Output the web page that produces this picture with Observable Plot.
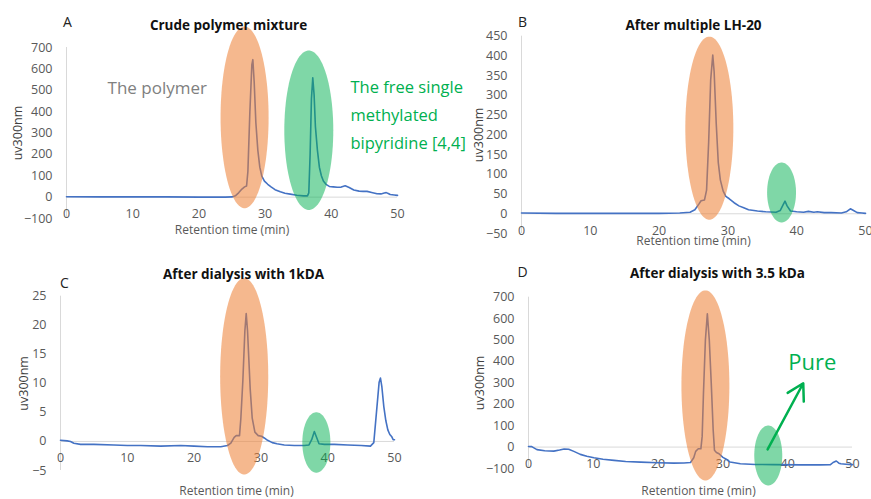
<!DOCTYPE html>
<html><head><meta charset="utf-8">
<script src="https://cdn.jsdelivr.net/npm/d3@7"></script>
<script src="https://cdn.jsdelivr.net/npm/@observablehq/plot@0.6"></script>
<style>
html,body{margin:0;padding:0;background:#fff;}
#root{position:relative;width:871px;height:499px;overflow:hidden;}
.panel{position:absolute;}
</style></head><body><div id="root"></div>
<script>
// ---------- data ----------
const xTicks = [0, 10, 20, 30, 40, 50];

const panelLetters = ["A", "B", "C", "D"];
const panelTitles = ["Crude polymer mixture", "After multiple LH-20", "After dialysis with 1kDA", "After dialysis with 3.5 kDa"];
const xTitle = "Retention time (min)";
const yTitle = "uv300nm";

const yTicksA = [-100, 0, 100, 200, 300, 400, 500, 600, 700];
const yTicksB = [-50, 0, 50, 100, 150, 200, 250, 300, 350, 400, 450];
const yTicksC = [-5, 0, 5, 10, 15, 20, 25];
const yTicksD = [-100, 0, 100, 200, 300, 400, 500, 600, 700];

const aTime  = [0, 5, 10, 15, 20, 24, 25, 25.5, 26, 26.5, 26.9, 27.2, 27.4, 27.7, 28.0, 28.15, 28.35, 28.6, 28.9, 29.2, 29.5, 29.9, 30.4, 30.9, 31.5, 32.3, 33.0, 33.8, 34.8, 35.8, 36.4, 36.6, 36.8, 37.0, 37.2, 37.4, 37.6, 37.9, 38.2, 38.5, 38.8, 39.2, 39.7, 40.3, 40.9, 41.5, 42.1, 42.7, 43.4, 44.2, 44.8, 45.4, 46.1, 46.9, 47.5, 48.0, 48.3, 48.6, 48.9, 49.5, 50];
const aValue = [2, 1, 1, 1, 0, 0, 1, 6, 20, 38, 48, 52, 120, 400, 620, 643, 540, 350, 220, 140, 98, 75, 60, 48, 35, 25, 18, 14, 9, 6, 6, 20, 200, 460, 558, 480, 330, 220, 140, 100, 75, 60, 50, 48, 46, 47, 53, 45, 33, 28, 27, 27, 22, 16, 15, 19, 21, 17, 12, 10, 8];

const bTime  = [0, 5, 10, 15, 20, 23, 24.5, 25.2, 25.8, 26.1, 26.6, 26.9, 27.2, 27.5, 27.8, 28.0, 28.3, 28.6, 28.9, 29.3, 29.7, 30.2, 30.9, 31.6, 32.3, 33.0, 34.3, 35.5, 37.0, 37.6, 38.0, 38.3, 38.6, 39.1, 40, 41, 41.7, 42.5, 43, 44, 45, 46.5, 47.2, 47.8, 48.2, 48.8, 49.5, 50];
const bValue = [2, 1, 1, 1, 1, 2, 4, 10, 25, 33, 35, 60, 180, 340, 402, 360, 230, 130, 86, 58, 44, 38, 28, 20, 15, 10, 7, 5, 4, 8, 22, 32, 20, 7, 5, 4, 6, 4, 5, 3, 3, 2, 5, 12.5, 9, 3, 2, 1];

const cTime  = [0, 1, 1.5, 2, 3, 5, 8, 10, 12, 15, 18, 20, 22, 24, 25, 25.5, 26.0, 26.3, 26.8, 27.0, 27.3, 27.6, 27.8, 28.0, 28.2, 28.4, 28.7, 29.1, 29.6, 30.1, 30.5, 31, 31.7, 32.4, 33.5, 35, 36.5, 37.2, 37.6, 38.0, 38.3, 38.7, 39.5, 41, 43, 45, 46.4, 46.9, 47.3, 47.7, 47.9, 48.1, 48.4, 48.7, 49.0, 49.3, 49.6, 49.8, 50];
const cValue = [0.2, 0.1, 0.0, -0.3, -0.5, -0.5, -0.6, -0.7, -0.7, -0.8, -0.7, -0.8, -0.9, -0.9, -0.7, -0.3, 0.7, 1.0, 1.0, 4, 10.5, 19, 22, 19, 14, 9, 4, 1.6, 1.0, 0.9, 0.6, 0.2, -0.2, -0.4, -0.6, -0.7, -0.7, -0.6, 0.3, 1.7, 0.8, -0.4, -0.5, -0.5, -0.6, -0.7, -0.8, -0.2, 5, 10.2, 10.9, 9.5, 6, 3.6, 2, 1.2, 0.8, 0.3, 0.3];

const dTime  = [0, 0.5, 1.3, 2.5, 3.9, 4.8, 5.5, 6.2, 7, 8, 9, 10.1, 11.5, 13.2, 15, 17.3, 20, 22.4, 24, 25, 25.5, 25.8, 26.2, 26.6, 26.8, 27.0, 27.3, 27.6, 27.9, 28.2, 28.5, 28.7, 29.0, 29.4, 30.0, 30.6, 31.1, 32.7, 35, 37.8, 42, 45, 46.6, 47.0, 47.5, 47.9, 48.2, 49, 50];
const dValue = [3, 2, -12, -17, -19, -14, -9, -10, -20, -34, -43, -50, -57, -62, -67, -70, -73, -75, -74, -72, -50, -20, -8, -8, 50, 250, 500, 623, 500, 300, 80, -15, -25, -31, -48, -58, -70, -78, -81, -82, -83, -83, -82, -72, -65, -75, -78, -80, -82];

const polymerLabel = "The polymer";
const freeLabel = "The free single\nmethylated\nbipyridine [4,4]";
const pureLabel = "Pure";

// ---------- drawing ----------
const ORANGE = "#ED7D31", GREEN = "#00B050", BLUE = "#4472C4";
const FONT = "'Open Sans', sans-serif";
const root = document.getElementById("root");
const MID = {textAnchor: "middle", lineAnchor: "middle"};

function ellipse(cx, cy, rx, ry) {
  const pts = [];
  for (let i = 0; i < 90; i++) {
    const a = (i / 90) * 2 * Math.PI;
    pts.push({x: cx + rx * Math.cos(a), y: cy + ry * Math.sin(a)});
  }
  return pts;
}
function blob(e, color, op) {
  return Plot.line(ellipse(...e), {x: "x", y: "y", curve: "linear-closed", fill: color, fillOpacity: op, stroke: "none"});
}

function panel(p) {
  const data = p.time.map((t, i) => ({t, v: p.value[i]}));
  const marks = [
    Plot.ruleY([0], {stroke: "#d9d9d9", strokeWidth: 1}),
    Plot.ruleX([0], {stroke: "#d9d9d9", strokeWidth: 1}),
    Plot.axisY(p.yTicks, {tickSize: 0, tickPadding: 14, fontSize: 12.5, fill: "#595959", label: null}),
    Plot.text(xTicks, {x: d => d, y: () => 0, dy: 17, text: d => String(d), fontSize: 12.5, fill: "#595959"}),
    Plot.line(data, {x: "t", y: "v", stroke: BLUE, strokeWidth: 1.6}),
    blob(p.orange, ORANGE, 0.55),
    blob(p.green, GREEN, 0.5),
    Plot.text([p.title], {text: d => d, frameAnchor: "top", ...MID, dx: p.titleDx, dy: p.titleDy, fontWeight: "bold", fontSize: 13.5, fill: "#111"}),
    Plot.text([p.letter], {text: d => d, frameAnchor: "top-left", ...MID, dx: p.letterDx, dy: p.letterDy, fontSize: 14, fill: "#222"}),
    Plot.text([xTitle], {text: d => d, frameAnchor: "bottom", ...MID, dx: p.xtDx, dy: p.xtDy, fontSize: 12, fill: "#595959"}),
    Plot.text([yTitle], {text: d => d, frameAnchor: "left", ...MID, dx: p.ytDx, rotate: -90, fontSize: 12.5, fill: "#404040"}),
    ...(p.extra || [])
  ];
  const svg = Plot.plot({
    width: p.width, height: p.height,
    marginLeft: p.ml, marginRight: p.mr, marginTop: p.mt, marginBottom: p.mb,
    x: {domain: [0, 50], axis: null},
    y: {domain: [p.yTicks[0], p.yTicks[p.yTicks.length - 1]], axis: null},
    style: {background: "transparent", overflow: "visible", fontFamily: FONT, maxWidth: "none"},
    marks
  });
  const div = document.createElement("div");
  div.className = "panel";
  div.style.left = p.left + "px";
  div.style.top = p.top + "px";
  div.appendChild(svg);
  root.appendChild(div);
}

// Panel A
panel({
  left: 0, top: 0, width: 435, height: 250, ml: 66, mr: 38, mt: 47, mb: 32,
  time: aTime, value: aValue, yTicks: yTicksA,
  orange: [26.9, 373, 3.63, 425], green: [36.6, 313, 3.7, 373],
  title: panelTitles[0], titleDx: -3.5, titleDy: -22,
  letter: panelLetters[0], letterDx: 1, letterDy: -25,
  xtDx: 0, xtDy: 12, ytDx: -49,
  extra: [
    Plot.text([polymerLabel], {text: d => d, x: () => 6.2, y: () => 509, textAnchor: "start", fontSize: 17, fill: "#808080"}),
    Plot.text([freeLabel], {text: d => d, x: () => 42.9, y: () => 397, textAnchor: "start", fontSize: 16.5, lineHeight: 1.7, fill: GREEN})
  ]
});
// Panel B
panel({
  left: 440, top: 0, width: 431, height: 250, ml: 81, mr: 6, mt: 35.7, mb: 17,
  time: bTime, value: bValue, yTicks: yTicksB,
  orange: [27.3, 217, 3.49, 232], green: [37.8, 54, 2.1, 76],
  title: panelTitles[1], titleDx: 0, titleDy: -11,
  letter: panelLetters[1], letterDx: 1, letterDy: -14,
  xtDx: 0, xtDy: 8, ytDx: -43
});
// Panel C
panel({
  left: 0, top: 250, width: 435, height: 249, ml: 60, mr: 41, mt: 45.7, mb: 29,
  time: cTime, value: cValue, yTicks: yTicksC,
  orange: [27.5, 11.2, 3.6, 16.9], green: [38.3, -0.17, 2.1, 5.2],
  title: panelTitles[2], titleDx: 16, titleDy: -22,
  letter: panelLetters[2], letterDx: 4, letterDy: -13,
  xtDx: 9, xtDy: 21, ytDx: -37
});
// Panel D
panel({
  left: 440, top: 250, width: 431, height: 249, ml: 88, mr: 19, mt: 46.7, mb: 31,
  time: dTime, value: dValue, yTicks: yTicksD,
  orange: [27.3, 288, 3.7, 444], green: [37.0, -39, 2.16, 140],
  title: panelTitles[3], titleDx: 27, titleDy: -24,
  letter: panelLetters[3], letterDx: -6, letterDy: -25,
  xtDx: 8, xtDy: 23, ytDx: -49,
  extra: [
    Plot.arrow([{x1: 36.9, y1: -11, x2: 42.4, y2: 298}], {x1: "x1", y1: "y1", x2: "x2", y2: "y2", stroke: GREEN, strokeWidth: 2.5, headLength: 11}),
    Plot.text([pureLabel], {text: d => d, x: () => 40.1, y: () => 391, textAnchor: "start", fontSize: 22, fill: GREEN})
  ]
});
</script></body></html>
